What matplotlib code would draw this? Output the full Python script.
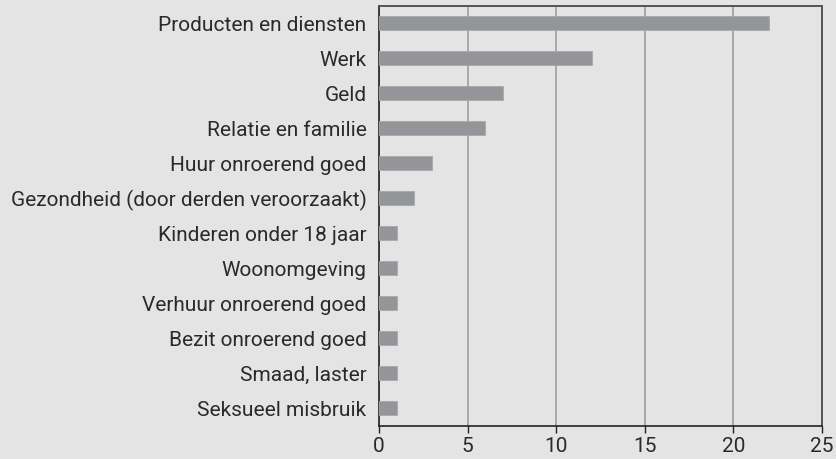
import numpy as np
import matplotlib.pyplot as plt

categories = ['Producten en diensten', 'Werk', 'Geld', 'Relatie en familie',
              'Huur onroerend goed', 'Gezondheid (door derden veroorzaakt)',
              'Kinderen onder 18 jaar', 'Woonomgeving', 'Verhuur onroerend goed',
              'Bezit onroerend goed', 'Smaad, laster', 'Seksueel misbruik']
values = [22, 12, 7, 6, 3, 2, 1, 1, 1, 1, 1, 1]
xticks = [0, 5, 10, 15, 20, 25]

plt.rcParams['font.family'] = ['Roboto', 'DejaVu Sans']
bg = '#e4e4e4'

fig = plt.figure(figsize=(8.36, 4.59), dpi=100, facecolor=bg)
ax = fig.add_axes([0.4533, 0.072, 0.530, 0.915])
ax.set_facecolor(bg)

y = np.arange(len(categories))
ax.barh(y, values, height=0.4, color='#939598', edgecolor='#a7a8aa', linewidth=0.6, zorder=3)
ax.set_ylim(len(categories) - 0.5, -0.5)
ax.set_xlim(0, 25)
ax.set_xticks(xticks)
ax.set_yticks(y)
ax.set_yticklabels(categories, fontsize=15, color='#2a2a2a')
ax.tick_params(axis='y', length=0, pad=9)
ax.tick_params(axis='x', length=5, width=1, color='#222222', labelsize=15, labelcolor='#2a2a2a', pad=3)
ax.grid(axis='x', color='#a3a3a3', linewidth=1.3, zorder=1)

for side in ['left', 'bottom']:
    ax.spines[side].set_color('#222222')
    ax.spines[side].set_linewidth(1.2)
for side in ['top', 'right']:
    ax.spines[side].set_color('#555555')
    ax.spines[side].set_linewidth(1.4)

fig.savefig('out.png', dpi=100, facecolor=bg)
